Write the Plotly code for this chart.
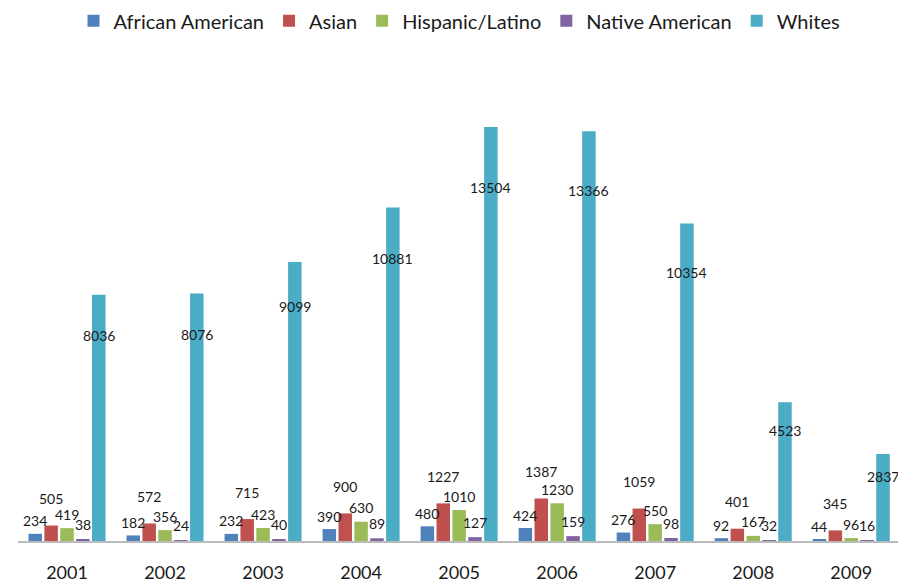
import plotly.graph_objects as go

years = ["2001", "2002", "2003", "2004", "2005", "2006", "2007", "2008", "2009"]
african_american = [234, 182, 232, 390, 480, 424, 276, 92, 44]
asian = [505, 572, 715, 900, 1227, 1387, 1059, 401, 345]
hispanic_latino = [419, 356, 423, 630, 1010, 1230, 550, 167, 96]
native_american = [38, 24, 40, 89, 127, 159, 98, 32, 16]
whites = [8036, 8076, 9099, 10881, 13504, 13366, 10354, 4523, 2837]

series_names = ["African American", "Asian", "Hispanic/Latino", "Native American", "Whites"]
series_values = [african_american, asian, hispanic_latino, native_american, whites]
colors = ["#4F81BD", "#C0504D", "#9BBB59", "#8064A2", "#4BACC6"]

FONT = "Lato, 'Liberation Sans', Arial, sans-serif"

fig = go.Figure()
for name, vals, col in zip(series_names, series_values, colors):
    fig.add_trace(go.Bar(x=years, y=vals, name=name, marker=dict(color=col, line=dict(width=0))))

# data labels as annotations (placed relative to each bar's own value)
label_offsets = {"African American": 13, "Asian": 27, "Hispanic/Latino": 14, "Native American": 15}
n = len(series_names)
slot = 0.81 / n
annotations = []
for si, (name, vals) in enumerate(zip(series_names, series_values)):
    for xi, (yr, v) in enumerate(zip(years, vals)):
        if name == "Whites":
            ys = -(12 + 0.00356 * v)
        else:
            ys = label_offsets[name]
        annotations.append(dict(
            x=xi - 0.405 + slot * (si + 0.5), y=v, xref="x", yref="y", text=str(v), showarrow=False,
            yanchor="middle", xanchor="center", yshift=ys,
            font=dict(family=FONT, size=14, color="#1a1a1a"),
        ))

fig.update_layout(
    width=898, height=576,
    margin=dict(l=10, r=5, t=52, b=43, autoexpand=False),
    paper_bgcolor="white", plot_bgcolor="white",
    barmode="group", bargap=0.19, bargroupgap=0.15,
    font=dict(family=FONT, color="#1a1a1a"),
    legend=dict(orientation="h", x=0.5, xanchor="center", y=1.122, yanchor="top",
                font=dict(family=FONT, size=20, color="#1a1a1a"), itemclick=False,
                traceorder="normal"),
    annotations=annotations,
    xaxis=dict(type="category", showline=True, linecolor="#BBBBBB", linewidth=2, showgrid=False,
               zeroline=False, ticks="", tickfont=dict(family=FONT, size=18, color="#1a1a1a"),
               ticklabelstandoff=14, fixedrange=True, automargin=False),
    yaxis=dict(range=[0, 15690], showticklabels=False, showgrid=False, zeroline=False,
               showline=False, fixedrange=True, automargin=False),
)
fig.write_html("out.html")
